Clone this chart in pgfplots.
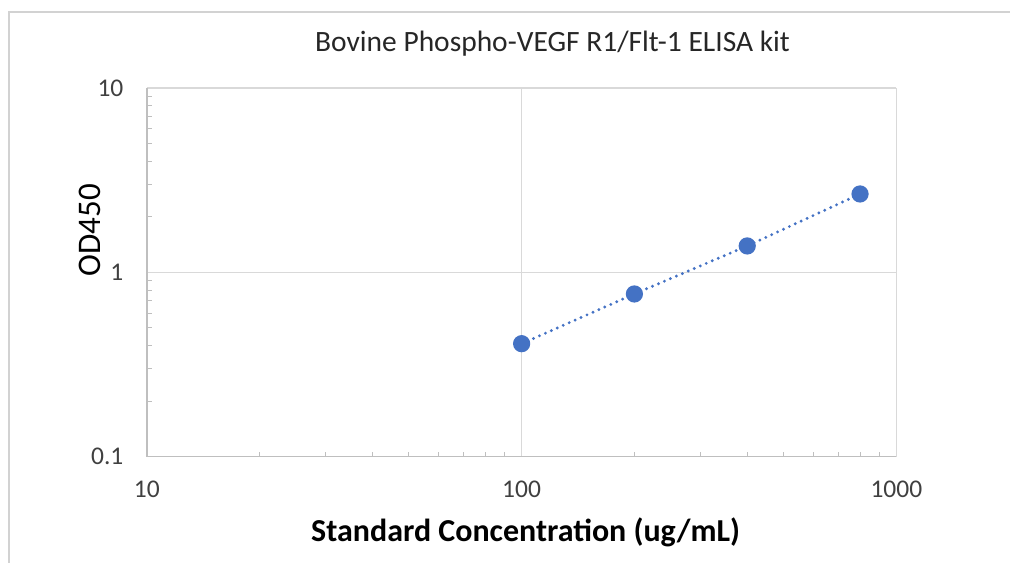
\documentclass[border=0pt]{standalone}
\usepackage{pgfplots}
\pgfplotsset{compat=1.18}
\usepackage{fontspec}
\setmainfont{Carlito}

\definecolor{ptblue}{HTML}{4472C4}
\definecolor{gridgray}{HTML}{D9D9D9}
\definecolor{axgray}{HTML}{BFBFBF}
\definecolor{txtgray}{HTML}{404040}

\begin{document}
\begin{tikzpicture}
\begin{axis}[
    name=ax,
    scale only axis,
    width=750pt,
    height=369pt,
    xmode=log,
    ymode=log,
    log basis x={10},
    log basis y={10},
    xmin=10, xmax=1000,
    ymin=0.1, ymax=10,
    xtick={10,100,1000},
    ytick={0.1,1,10},
    xticklabels={10,100,1000},
    yticklabels={0.1,1,10},
    minor xtick={20,30,40,50,60,70,80,90,200,300,400,500,600,700,800,900},
    minor ytick={0.2,0.3,0.4,0.5,0.6,0.7,0.8,0.9,2,3,4,5,6,7,8,9},
    major tick length=0pt,
    minor tick length=5pt,
    minor tick style={axgray, line width=1pt},
    grid=major,
    major grid style={gridgray, line width=1.2pt},
    axis x line*=bottom,
    axis y line*=left,
    axis line style={axgray, line width=1.3pt, -},
    tick label style={font=\fontsize{25.5}{28}\selectfont, text=txtgray},
    xticklabel style={anchor=center, yshift=-33pt},
    yticklabel style={anchor=east, xshift=-20pt},
    title={Bovine Phospho-VEGF R1/Flt-1 ELISA kit},
    title style={at={(rel axis cs:0.5,1)}, anchor=center, yshift=38pt, xshift=31pt,
        font=\fontsize{29.5}{33}\selectfont, text=black!85},
    xlabel={\textbf{Standard Concentration (ug/mL)}},
    xlabel style={at={(rel axis cs:0.5,0)}, anchor=center, yshift=-76pt, xshift=4pt,
        font=\fontsize{32}{36}\selectfont},
    ylabel={OD450},
    ylabel style={at={(rel axis cs:0,0.5)}, anchor=center, yshift=57pt, xshift=42pt,
        font=\fontsize{33}{36}\selectfont},
]
\addplot[ptblue, line width=3.2pt, line cap=round, dash pattern=on 0pt off 6.5pt,
    mark=*, mark size=7pt, mark options={solid, fill=ptblue, draw=ptblue}]
coordinates {
(100, 0.41)
(200, 0.763)
(400, 1.39)
(800, 2.66)
};
\end{axis}
\draw[axgray!70, line width=1.5pt] ([xshift=-138pt,yshift=-106pt]ax.south west) -- ([xshift=-138pt,yshift=445pt]ax.south west) -- ([xshift=864pt,yshift=445pt]ax.south west);
\useasboundingbox ([xshift=-147pt,yshift=-106pt]ax.south west) rectangle ([xshift=864pt,yshift=457pt]ax.south west);
\end{tikzpicture}
\end{document}
